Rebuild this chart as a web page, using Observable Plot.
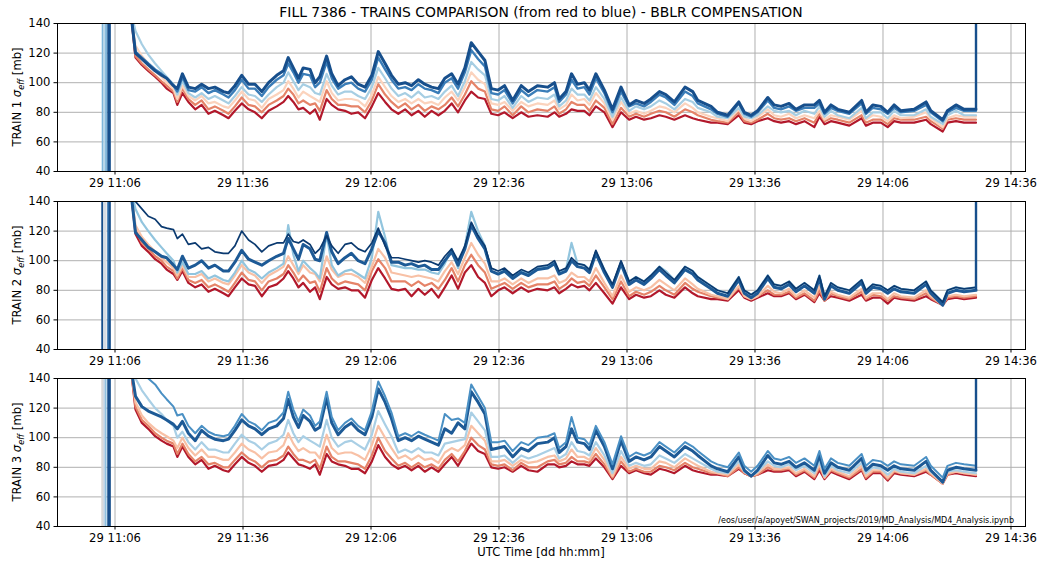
<!DOCTYPE html>
<html><head><meta charset="utf-8">
<script src="https://cdn.jsdelivr.net/npm/d3@7"></script>
<script src="https://cdn.jsdelivr.net/npm/@observablehq/plot@0.6"></script>
<style>
body{margin:0;background:#fff;}
#wrap{position:relative;width:1041px;height:567px;font-family:"DejaVu Sans",sans-serif;color:#000;overflow:hidden;}
.panel{position:absolute;left:0;}
#title{position:absolute;left:57px;width:968px;top:4px;text-align:center;font-size:13.9px;line-height:16px;}
#xlabel{position:absolute;left:57px;width:968px;top:545px;text-align:center;font-size:11.6px;line-height:14px;}
</style></head><body>
<div id="wrap">
<div id="title">FILL 7386 - TRAINS COMPARISON (from red to blue) - BBLR COMPENSATION</div>
<div id="p1" class="panel" style="top:0px"></div>
<div id="p2" class="panel" style="top:177.7px"></div>
<div id="p3" class="panel" style="top:354.7px"></div>
<div id="xlabel">UTC Time [dd hh:mm]</div>
</div>
<script>
// ---------- data ----------
const fillDay = "2018-10-29";
// minutes after 11:00 UTC
const tMin = [9.6,10.8,12.3,13.8,15.4,16.9,18.1,19.7,20.6,21.8,23.2,24.8,26.3,27.9,29.4,31.4,32.6,34.1,35.7,37.3,38.8,40.4,42,43.9,45.5,46.6,47.8,49,50.1,51.7,52.9,54,55.6,56.8,58.3,59.9,61.4,63,64.6,66.2,67.7,69.3,70.8,72.4,74,75.5,77.1,78.6,80.2,81.8,83.3,84.9,86.4,88,89.5,91.1,92.7,94.2,95.8,97.3,99.2,101.2,102.9,105,
107.4,109,110.1,111.7,113,114.4,116,117.2,118.7,120.7,122.6,124.6,126.5,128.1,130,131.6,133.6,135.1,137.1,139.6,141.4,142.6,145.7,147.2,149.6,152.2,153.5,155.1,156.6,159,160.5,162.1,164,165.6,167.6,169.9,171.1,172.3,173.8,175.4,178.1,181,182,183.6,185.5,187.1,188.6,190.2,193.3,196.1,197.2,200,201.1,203.1,205,207.8];
const xTickTimes = ["11:06","11:36","12:06","12:36","13:06","13:36","14:06","14:36"];
const yTicks = [40,60,80,100,120,140];
const trainLabels = ["TRAIN 1","TRAIN 2","TRAIN 3"];

// TRAIN 1 (red -> blue)
const train1_red = [150,117,112,108,104,100,96,93,85,93,87,82,85,79,81,78,76,81,86,82,80,76,81,84,87,91,87,82,83,79,82,75,89,85,82,81,79,80,76,84,93,87,82,79,82,78,81,77,81,78,81,86,80,88,94,90,89,79,78,80,76,80,77,78,
77,80,77,79,82,81,81,78,84,80,70,80,75,77,75,76,78,77,75,78,76,75,73,73,72,78,73,72,74,76,74,73,74,72,74,70,77,72,74,73,71,76,71,73,73,70,74,73,73,75,72,67,73,74,73,73];
const train1_salmon = [150,118,113,109,105,101,98,94,87,96,89,85,88,82,84,81,79,84,90,85,84,80,85,88,91,96,92,86,88,85,86,81,95,89,85,85,84,84,80,88,99,92,87,83,86,82,85,81,84,82,85,90,84,92,101,96,94,82,81,84,78,84,80,82,
81,84,79,82,87,85,85,81,88,83,72,83,77,79,77,79,81,80,77,82,80,78,75,74,73,80,74,73,75,79,76,75,76,74,76,73,79,74,76,75,73,78,73,75,75,72,76,75,75,77,74,69,75,76,75,75];
const train1_pale = [150,125,118,113,108,104,100,96,89,98,91,88,91,86,87,84,83,88,94,89,88,83,89,92,95,101,96,90,94,91,89,87,101,93,88,89,89,88,84,92,104,97,91,87,89,86,89,86,87,85,90,94,88,97,107,102,99,86,85,87,81,87,84,86,
85,88,82,85,92,88,89,85,93,86,75,87,79,81,79,81,84,83,80,86,83,80,77,76,74,82,76,74,77,82,78,77,79,76,78,76,81,75,78,77,75,81,75,78,77,74,78,76,77,80,76,70,76,78,77,77];
const train1_lightBlue = [150,135,126,119,113,108,104,99,92,101,93,90,93,89,91,88,86,91,97,92,91,87,92,97,100,107,101,95,99,97,93,92,106,98,92,94,94,91,89,97,110,103,96,91,93,90,94,90,91,89,94,98,91,101,114,109,105,89,88,91,83,91,87,90,
89,92,84,88,96,92,92,88,97,89,77,90,81,84,82,84,88,86,82,89,87,83,80,77,76,83,77,76,78,84,81,80,81,78,81,79,84,77,81,78,76,83,76,80,80,76,81,78,78,82,77,72,78,81,78,78];
const train1_blue = [150,121,117,113,109,106,103,98,94,104,95,94,97,93,95,92,90,95,102,96,96,91,97,102,105,113,107,100,106,105,97,100,114,103,96,99,100,96,94,102,117,109,102,96,97,95,99,96,95,93,100,103,96,107,122,116,111,93,92,95,86,95,91,95,
94,97,87,92,102,96,97,92,103,93,80,94,84,86,84,87,92,90,85,94,91,86,82,79,77,86,79,77,80,88,83,82,84,81,83,83,86,79,83,81,79,86,79,83,82,79,83,80,81,85,80,74,80,83,81,81];
const train1_navy = [150,120,116,112,108,105,103,98,96,106,97,96,99,96,97,94,93,98,105,99,99,94,100,105,108,117,110,103,110,109,100,104,118,106,98,102,104,99,97,105,121,113,105,99,100,98,102,99,97,96,103,106,99,110,127,121,115,96,95,98,88,98,94,98,
97,100,89,94,106,99,100,95,106,95,82,97,85,88,86,89,94,92,87,97,94,88,84,80,78,87,80,78,81,90,85,84,86,82,85,85,88,80,85,82,80,88,80,85,84,80,85,81,82,87,81,75,81,85,82,82];

// TRAIN 2
const train2_red = [150,118,110,106,101,98,94,91,87,93,85,82,84,79,81,78,76,82,88,84,83,76,82,84,88,93,88,82,85,79,82,74,89,84,81,82,80,80,75,87,95,88,81,80,81,76,81,77,81,75,82,90,81,92,97,89,85,76,80,82,78,82,79,81,
80,82,78,81,84,82,83,80,85,78,71,82,74,77,75,76,80,77,75,82,78,76,74,74,73,80,75,73,75,78,76,76,78,74,77,72,78,73,76,75,73,77,73,75,75,71,75,74,73,76,74,70,74,75,74,75];
const train2_salmon = [150,121,112,108,103,100,96,93,88,95,87,85,87,82,84,81,79,85,92,87,86,80,86,88,91,97,92,86,90,85,86,79,95,88,84,86,85,84,80,93,101,95,86,86,86,83,86,83,85,81,87,95,86,97,104,97,92,81,83,85,81,85,82,84,
84,86,81,84,88,85,86,83,90,82,74,86,76,79,77,79,83,80,77,85,81,79,76,75,74,82,76,74,76,80,77,77,79,75,78,73,80,73,78,76,74,79,74,77,76,73,76,75,74,78,75,70,75,76,75,76];
const train2_pale = [150,124,116,111,106,102,99,95,90,97,89,89,91,86,88,85,84,90,97,92,90,85,90,93,96,103,97,91,97,92,91,86,103,94,89,91,91,89,85,96,108,102,92,91,90,89,90,89,88,86,93,99,91,102,112,104,98,86,86,88,84,88,85,88,
88,90,85,87,92,89,89,86,95,85,76,90,79,82,80,82,87,84,80,88,84,81,77,76,74,83,76,74,76,83,79,78,81,76,80,75,83,74,79,77,75,81,75,78,78,74,78,76,75,80,76,70,76,77,76,77];
const train2_lightBlue = [150,135,126,120,114,109,105,100,92,99,91,91,93,88,90,87,86,92,100,94,92,88,92,95,98,124,104,93,100,95,92,88,118,97,90,93,94,91,88,102,133,116,97,96,95,95,94,94,92,91,98,108,95,110,133,120,110,93,91,94,89,93,91,95,
96,99,92,94,112,98,97,94,106,94,83,99,86,89,86,90,96,93,87,96,93,89,83,80,78,89,80,77,80,90,84,83,86,81,85,80,90,76,85,82,80,87,80,84,83,80,83,81,80,86,80,72,80,82,81,82];
const train2_navy = [150,119,114,109,106,103,102,97,94,103,95,97,100,95,97,93,93,99,107,101,99,97,100,103,105,115,108,101,111,108,101,100,119,106,98,102,105,100,98,108,120,112,99,99,97,98,96,97,94,94,100,106,97,108,124,115,108,93,91,93,88,92,90,94,
95,98,91,93,100,96,95,92,105,92,82,98,84,87,84,88,94,90,85,94,91,87,81,78,76,87,78,75,78,88,82,81,84,79,83,78,88,74,83,80,78,85,78,82,81,78,81,79,78,84,78,70,78,80,79,80];
const train2_darkNavy = [150,140,135,130,128,123,122,121,115,118,111,112,108,109,106,105,105,110,120,114,111,106,110,112,112,118,113,112,114,111,105,108,117,110,105,111,112,108,106,112,122,110,102,102,101,100,99,100,99,97,103,108,100,110,126,117,110,95,93,95,90,94,92,96,
97,100,93,95,102,98,97,94,107,94,84,100,86,89,86,90,96,92,87,96,93,89,83,80,78,89,80,77,80,90,84,83,86,81,85,80,90,76,85,82,80,87,80,84,83,80,83,81,80,86,80,72,80,82,81,82];

// TRAIN 3
const train3_red = [150,119,110,106,101,98,96,94,87,94,87,82,85,79,81,78,77,82,87,83,81,77,81,82,85,90,86,82,81,79,82,75,89,84,82,81,79,79,76,84,95,87,82,79,81,78,81,77,80,77,82,87,81,89,96,91,89,80,79,80,77,81,78,77,
82,82,80,81,84,82,82,81,86,80,72,81,76,78,76,75,79,78,76,81,78,77,75,75,74,79,76,74,75,78,77,77,78,74,77,72,78,72,77,75,72,78,72,76,76,71,76,75,74,77,75,69,75,76,75,74];
const train3_salmon = [150,121,112,108,103,100,98,96,89,96,89,84,87,82,83,80,80,85,90,86,84,80,84,85,88,94,89,85,85,83,85,79,94,87,84,84,83,82,79,88,100,91,86,81,83,80,83,80,82,79,85,89,84,91,100,95,92,82,81,82,78,83,80,80,
84,85,82,83,87,84,84,83,89,82,73,84,77,79,77,77,81,80,78,83,80,79,76,76,74,80,76,74,75,80,78,78,79,75,78,73,80,73,78,76,73,79,73,77,77,72,77,76,75,78,75,69,75,77,76,75];
const train3_pale = [150,124,115,110,106,103,101,98,93,100,93,88,92,87,87,85,85,90,96,92,90,86,90,91,95,103,96,91,93,90,90,86,102,93,89,90,90,88,85,95,108,100,93,86,88,85,88,85,86,83,90,93,91,95,108,103,98,84,84,85,81,85,83,84,
87,88,84,86,92,87,87,85,93,85,74,87,79,81,79,79,84,83,80,86,83,81,77,76,75,82,77,74,76,82,79,79,80,76,79,74,82,73,79,77,74,81,74,78,78,73,78,76,75,79,76,69,76,77,76,75];
const train3_lightBlue = [150,140,132,126,120,116,112,108,100,104,97,92,97,92,92,90,90,96,102,98,96,92,96,98,102,112,103,97,101,98,96,94,112,100,94,97,98,95,92,102,118,109,101,90,92,90,93,90,90,88,96,97,98,99,117,111,105,87,87,88,83,88,86,88,
91,93,86,89,97,91,90,88,97,88,76,91,81,83,81,82,88,86,83,89,86,84,79,77,76,84,77,74,77,84,81,80,82,78,81,76,84,74,81,78,76,83,76,80,79,75,79,77,76,81,77,70,77,78,77,76];
const train3_navy = [150,128,121,118,116,114,112,109,106,111,103,98,105,101,99,98,99,105,112,108,106,102,106,108,113,126,114,107,115,111,105,107,127,110,102,107,110,105,102,114,133,124,113,98,100,98,101,99,97,95,106,103,110,106,131,124,116,92,93,94,87,93,91,96,
97,100,90,94,106,97,96,92,105,94,79,98,84,87,85,87,94,91,87,94,91,88,81,79,77,87,78,74,78,88,83,82,84,80,83,78,88,76,83,80,78,86,78,82,81,78,81,79,78,84,78,70,78,80,79,78];
const train3_blue = [150,150,145,140,136,130,126,121,115,116,108,103,108,104,102,101,102,108,116,111,109,105,110,112,117,131,119,111,119,115,108,111,131,114,105,110,113,108,105,118,138,128,117,101,103,101,104,102,100,98,116,112,113,110,136,128,120,97,97,98,91,97,95,100,
101,103,93,97,114,100,99,95,108,97,82,101,87,90,88,90,97,94,90,97,94,91,84,82,80,90,81,77,81,91,86,85,87,83,86,81,91,79,86,83,81,89,81,85,84,81,84,82,81,87,81,73,81,83,82,81];

// early vertical traces (minutes after 11:00) and the final spike
const spikeTimes1 = [3.1,3.5,3.9,4.4,4.8];
const spikeColors1 = ["#7fb6da","#b9d7ea","#7fb6da","#174f8c","#174f8c"];
const spikeTimes2 = [3.0,3.4,3.8,4.4,4.8];
const spikeColors2 = ["#174f8c","#cfd8e2","#d6dce3","#2a6aa8","#174f8c"];
const spikeTimes3 = [3.0,3.4,3.8,4.4,4.8];
const spikeColors3 = ["#d9d9d9","#cdd9e6","#8fc1e0","#174f8c","#174f8c"];
const endSpikeTime = 207.8;

const caption = "/eos/user/a/apoyet/SWAN_projects/2019/MD_Analysis/MD4_Analysis.ipynb";

// ---------- drawing ----------
const t0 = Date.parse(fillDay + "T11:00:00Z");
const toDate = m => new Date(t0 + m * 60000);
const hm = s => { const [h, m] = s.split(":").map(Number); return (h - 11) * 60 + m; };
const xTicks = xTickTimes.map(s => toDate(hm(s)));
const xDomain = [toDate(-7.48), toDate(219.4)];
const fmt = d3.utcFormat("%d %H:%M");

function panel(elId, series, colors, widths, spikeT, spikeC, label, navySeries, withCaption) {
  const marks = [
    Plot.gridY(yTicks, {stroke: "#b0b0b0", strokeOpacity: 1, strokeWidth: 1}),
    Plot.gridX(xTicks, {stroke: "#b0b0b0", strokeOpacity: 1, strokeWidth: 1}),
    Plot.ruleX(spikeT.map((m, i) => ({t: toDate(m), c: spikeC[i]})), {x: "t", stroke: "c", strokeWidth: 1.9})
  ];
  series.forEach((s, k) => {
    marks.push(Plot.line(tMin.map((m, i) => ({t: toDate(m), v: s[i]})),
      {x: "t", y: "v", stroke: colors[k], strokeWidth: widths[k], clip: true}));
  });
  marks.push(Plot.ruleX([{t: toDate(endSpikeTime), v: navySeries[navySeries.length - 1]}],
    {x: "t", y1: "v", y2: 140, stroke: "#174f8c", strokeWidth: 2.4, clip: true}));
  marks.push(Plot.frame({stroke: "black", strokeWidth: 1}));
  const svg = Plot.plot({
    width: 1041, height: 200,
    marginLeft: 57, marginRight: 16, marginTop: 23, marginBottom: 29,
    style: {fontFamily: "DejaVu Sans", fontSize: "11.6px", color: "black", background: "transparent", overflow: "visible"},
    x: {type: "utc", domain: xDomain, ticks: xTicks, tickFormat: fmt, label: null, tickSize: 3.5, tickPadding: 3.5},
    y: {domain: [40, 140], ticks: yTicks, label: null, tickSize: 3.5, tickPadding: 3.5},
    marks
  });
  const sel = d3.select(svg);
  const txt = sel.append("text").attr("transform", "translate(21,97) rotate(-90)")
    .attr("text-anchor", "middle").attr("font-size", "11.6px").attr("fill", "black");
  txt.append("tspan").text(label + " ");
  txt.append("tspan").attr("font-style", "italic").text("σ");
  txt.append("tspan").attr("font-style", "italic").attr("font-size", "8.2px").attr("dy", "2.5").text("eff");
  txt.append("tspan").attr("dy", "-2.5").text(" [mb]");
  if (withCaption) {
    sel.append("text").attr("x", 1014).attr("y", 168).attr("text-anchor", "end")
      .attr("font-size", "8px").attr("fill", "black").text(caption);
  }
  document.getElementById(elId).appendChild(svg);
}

panel("p1",
  [train1_red, train1_salmon, train1_pale, train1_lightBlue, train1_blue, train1_navy],
  ["#b2182b", "#e58368", "#fbd3bd", "#a6cee3", "#3a7db8", "#174f8c"],
  [2.2, 2.2, 2.2, 2.2, 2.4, 3.0], spikeTimes1, spikeColors1, trainLabels[0], train1_navy, false);
panel("p2",
  [train2_red, train2_salmon, train2_pale, train2_lightBlue, train2_navy, train2_darkNavy],
  ["#b2182b", "#e58368", "#f8c1a6", "#92c5de", "#1d5a96", "#0b3a70"],
  [2.2, 2.2, 2.2, 2.2, 3.0, 1.7], spikeTimes2, spikeColors2, trainLabels[1], train2_navy, false);
panel("p3",
  [train3_red, train3_salmon, train3_pale, train3_lightBlue, train3_navy, train3_blue],
  ["#b2182b", "#e58368", "#f8c1a6", "#a9cfe5", "#1d5a96", "#4a90c4"],
  [2.2, 2.2, 2.2, 2.2, 3.0, 2.0], spikeTimes3, spikeColors3, trainLabels[2], train3_navy, true);
</script>
</body></html>
